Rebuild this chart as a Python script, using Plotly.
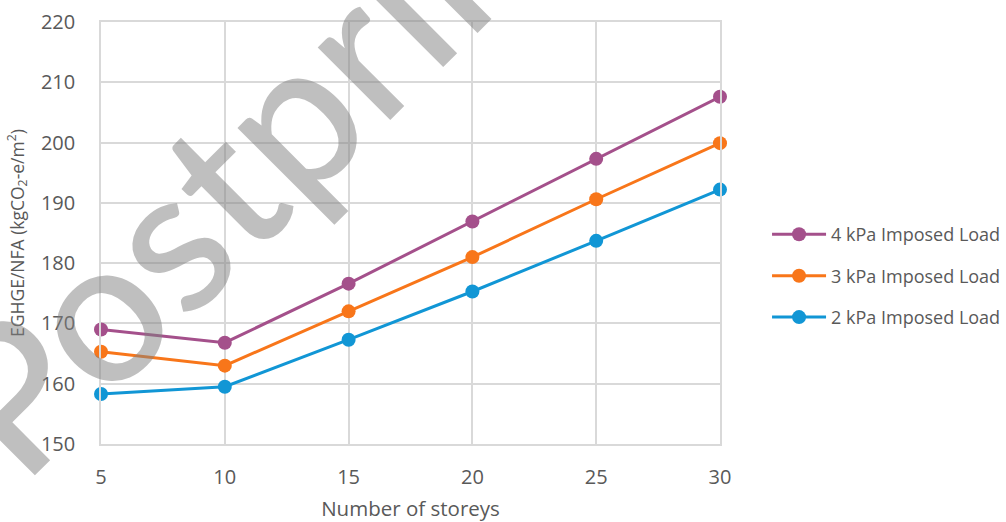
import plotly.graph_objects as go

# Building height (number of storeys)
storeys = [5, 10, 15, 20, 25, 30]

# Embodied GHG emissions per net floor area, kgCO2-e/m2
load_4kpa = [169.0, 166.8, 176.6, 186.9, 197.3, 207.6]
load_3kpa = [165.3, 163.0, 172.0, 181.0, 190.6, 199.9]
load_2kpa = [158.3, 159.5, 167.3, 175.3, 183.7, 192.2]

series_names = ["4 kPa Imposed Load", "3 kPa Imposed Load", "2 kPa Imposed Load"]
series_values = [load_4kpa, load_3kpa, load_2kpa]
series_colors = ["#A4508B", "#F8761A", "#1196D5"]

y_ticks = [150, 160, 170, 180, 190, 200, 210, 220]
x_ticks = [5, 10, 15, 20, 25, 30]

FONT = "Open Sans"
TEXT = "#595959"
GRID = "#D9D9D9"

fig = go.Figure()
for i, (name, vals, col) in enumerate(zip(series_names, series_values, series_colors)):
    fig.add_trace(go.Scatter(
        x=storeys, y=vals, name=name, mode="lines+markers",
        line=dict(color=col, width=3),
        marker=dict(color=col, size=14),
        cliponaxis=False,
        legendgroup=f"g{i}",
    ))

fig.update_layout(
    width=1006, height=522,
    margin=dict(l=101, r=286, t=22, b=78, autoexpand=False),
    paper_bgcolor="white", plot_bgcolor="white",
    font=dict(family=FONT, color=TEXT, size=18),
    showlegend=True,
    legend=dict(
        x=1.076, xanchor="left", y=0.54, yanchor="top",
        font=dict(family=FONT, size=18, color=TEXT),
        itemwidth=54,
        tracegroupgap=15, bgcolor="rgba(0,0,0,0)",
    ),
)

fig.update_xaxes(
    range=[5, 30], tickvals=x_ticks, showgrid=True, gridcolor=GRID, gridwidth=1.5,
    showline=True, linecolor=GRID, linewidth=1.5, mirror=True, zeroline=False,
    ticks="", ticklabelstandoff=14,
    tickfont=dict(family=FONT, size=20, color=TEXT),
    title=dict(text="Number of storeys", font=dict(family=FONT, size=20.5, color=TEXT), standoff=18),
)
fig.update_yaxes(
    range=[150, 220], tickvals=y_ticks, showgrid=True, gridcolor=GRID, gridwidth=1.5,
    showline=True, linecolor=GRID, linewidth=1.5, mirror=True, zeroline=False,
    ticks="", ticklabelstandoff=20,
    tickfont=dict(family=FONT, size=20, color=TEXT),
    title=dict(text="EGHGE/NFA (kgCO<sub>2</sub>-e/m<sup>2</sup>)",
               font=dict(family=FONT, size=17.5, color=TEXT), standoff=12),
)

# Watermark across the chart
fig.add_annotation(
    text="Postprint", xref="paper", yref="paper", x=0.2488, y=0.7085,
    xanchor="center", yanchor="middle",
    showarrow=False, textangle=-45,
    font=dict(family="Lato", size=202, weight=500, color="rgba(128,128,128,0.5)"),
)

fig.write_html("out.html")
